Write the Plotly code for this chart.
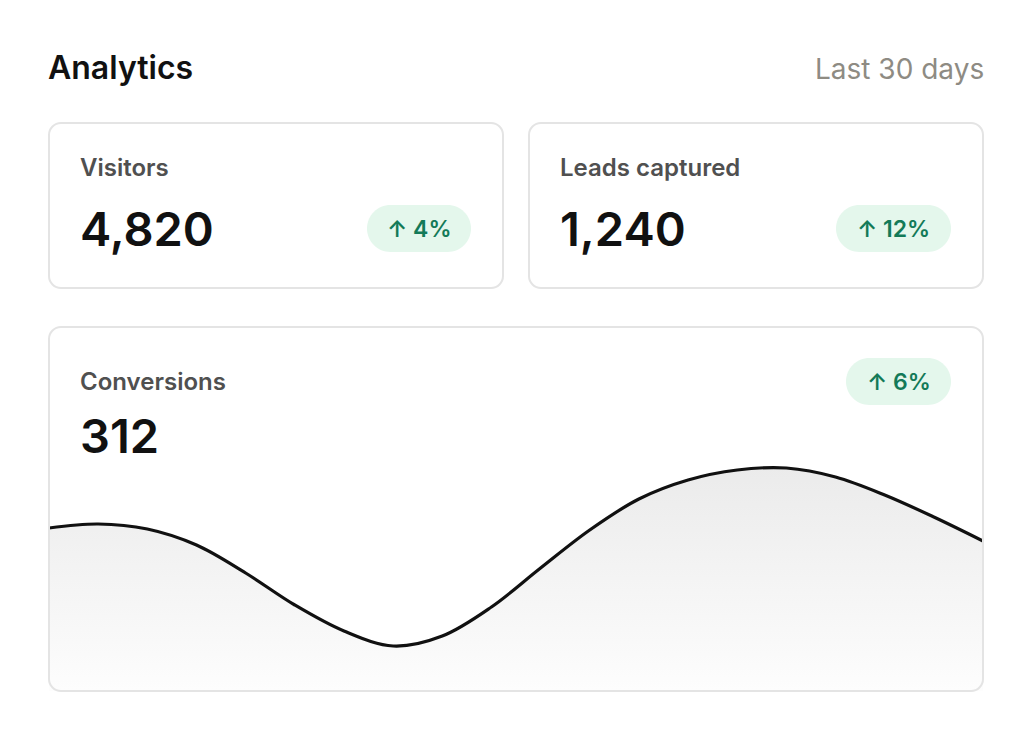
import plotly.graph_objects as go

W, H = 1032, 742
OFF = 8  # page body margin in the browser
PAD = 3  # annotation inner padding

# KPI tiles
kpi_labels = ["Visitors", "Leads captured", "Conversions"]
kpi_values = ["4,820", "1,240", "312"]
kpi_changes = ["↑ 4%", "↑ 12%", "↑ 6%"]

# conversions trend over the last 30 days (sample index, level)
trend_idx = [0, 1, 2, 3, 4, 5, 6, 7, 8, 9, 10, 11, 12, 13, 14, 15, 16, 17, 18, 19]
trend_val = [163, 167, 162, 146, 118, 86, 60, 45, 55, 84,
             123, 161, 192, 211, 221, 223, 214, 196, 174, 150]

FONT = "Inter"


def px(x, y):
    return (x - OFF) / W, 1 - (y - OFF) / H


def rrect(x0, y0, x1, y1, r):
    # rounded rectangle path in paper coords, built from pixel corners
    k = 0.5523 * r
    pts = [
        ("M", [(x0 + r, y0)]),
        ("L", [(x1 - r, y0)]),
        ("C", [(x1 - r + k, y0), (x1, y0 + r - k), (x1, y0 + r)]),
        ("L", [(x1, y1 - r)]),
        ("C", [(x1, y1 - r + k), (x1 - r + k, y1), (x1 - r, y1)]),
        ("L", [(x0 + r, y1)]),
        ("C", [(x0 + r - k, y1), (x0, y1 - r + k), (x0, y1 - r)]),
        ("L", [(x0, y0 + r)]),
        ("C", [(x0, y0 + r - k), (x0 + r - k, y0), (x0 + r, y0)]),
    ]
    out = []
    for cmd, ps in pts:
        coords = " ".join("%.5f,%.5f" % px(a, b) for a, b in ps)
        out.append(cmd + " " + coords)
    return " ".join(out) + " Z"


fig = go.Figure()

fig.add_trace(go.Scatter(
    x=trend_idx, y=trend_val, mode="lines",
    line=dict(color="#111111", width=3.2, shape="spline", smoothing=1),
    fill="tozeroy",
    fillgradient=dict(type="vertical",
                      colorscale=[[0, "#fdfdfd"], [1, "#ebebeb"]]),
    hoverinfo="skip", showlegend=False,
))

shapes = []
cards = [(49, 123, 503, 288), (529, 123, 983, 288), (49, 327, 983, 691)]
for c in cards:
    shapes.append(dict(type="path", path=rrect(*c, 12), xref="paper", yref="paper",
                       fillcolor="rgba(0,0,0,0)", line=dict(color="#e4e4e4", width=2),
                       layer="above"))

pills = [(367, 205, 471, 252), (836, 205, 951, 252), (846, 358, 951, 405)]
for p in pills:
    shapes.append(dict(type="path", path=rrect(*p, 23.5), xref="paper", yref="paper",
                       fillcolor="#e4f7ec", line=dict(width=0), layer="below"))

ann = []


def text(x, y, s, size, color, weight, anchor="left"):
    if anchor == "left":
        x -= PAD
    elif anchor == "right":
        x += PAD
    ax, ay = px(x, y)
    ann.append(dict(x=ax, y=ay, xref="paper", yref="paper", text=s, showarrow=False,
                    xanchor=anchor, yanchor="middle",
                    font=dict(family=FONT, size=size, color=color, weight=weight)))


text(49, 67, "Analytics", 32, "#111111", 600)
text(983, 69, "Last 30 days", 28, "#8e8b83", 400, "right")

label_pos = [(81, 167), (561, 167), (81, 381)]
value_pos = [(81, 229), (561, 229), (81, 435)]
for i in range(3):
    text(label_pos[i][0], label_pos[i][1], kpi_labels[i], 24, "#505050", 600)
    text(value_pos[i][0], value_pos[i][1], kpi_values[i], 47, "#111111", 600)
    x0, y0, x1, y1 = pills[i]
    text((x0 + x1) / 2, (y0 + y1) / 2, kpi_changes[i], 23, "#137a58", 600, "center")

x0p, _ = px(49, 0)
x1p, _ = px(983, 0)
_, y0p = px(0, 691)
_, y1p = px(0, 327)

fig.update_layout(
    width=W, height=H,
    margin=dict(l=0, r=0, t=0, b=0),
    paper_bgcolor="white", plot_bgcolor="rgba(0,0,0,0)",
    shapes=shapes, annotations=ann,
    xaxis=dict(domain=[x0p, x1p], range=[0, 19], visible=False, fixedrange=True),
    yaxis=dict(domain=[y0p, y1p], range=[0, 364], visible=False, fixedrange=True),
    showlegend=False,
)

fig.write_html("out.html", config={"displayModeBar": False})
